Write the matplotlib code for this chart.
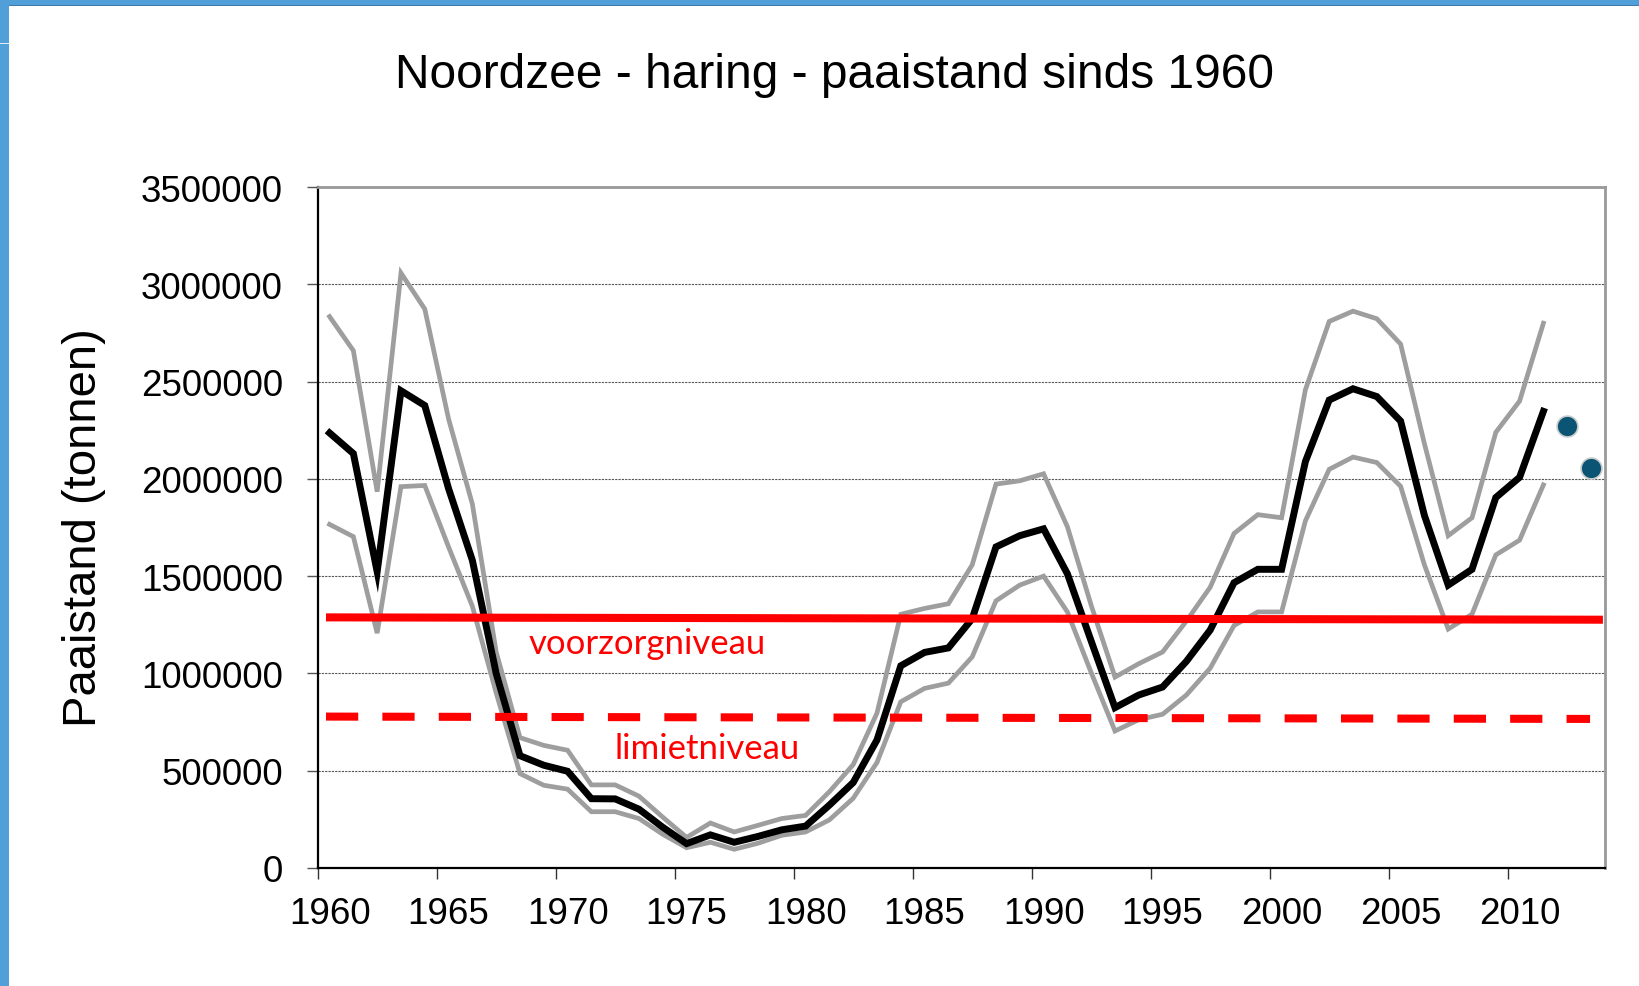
import matplotlib
matplotlib.use('Agg')
import matplotlib.pyplot as plt
from matplotlib.patches import Rectangle

# ---------------- data ----------------
years = list(range(1960, 2012))
ssb = [2236000, 2130000, 1523000, 2453000, 2377000, 1950000, 1581000, 1000000, 577000, 528000,
       497000, 356000, 355000, 302000, 209000, 125000, 170000, 132000, 162000, 196000,
       215000, 323000, 439000, 658000, 1039000, 1108000, 1131000, 1281000, 1650000, 1708000,
       1743000, 1512000, 1166000, 824000, 889000, 930000, 1062000, 1223000, 1466000, 1535000,
       1535000, 2089000, 2405000, 2463000, 2423000, 2297000, 1812000, 1454000, 1535000, 1904000,
       2008000, 2347000]
ssb_high = [2834000, 2659000, 1934000, 3058000, 2873000, 2308000, 1870000, 1110000, 670000, 630000,
            605000, 427000, 427000, 369000, 261000, 157000, 231000, 185000, 219000, 254000,
            270000, 392000, 531000, 796000, 1304000, 1334000, 1358000, 1558000, 1973000, 1990000,
            2026000, 1754000, 1350000, 981000, 1050000, 1110000, 1269000, 1443000, 1719000, 1816000,
            1800000, 2458000, 2809000, 2862000, 2823000, 2693000, 2181000, 1708000, 1800000, 2239000,
            2400000, 2800000]
ssb_low = [1766000, 1703000, 1207000, 1960000, 1966000, 1650000, 1345000, 900000, 485000, 425000,
           405000, 289000, 289000, 254000, 173000, 104000, 132000, 96000, 127000, 168000,
           185000, 247000, 358000, 542000, 854000, 923000, 950000, 1085000, 1373000, 1454000,
           1500000, 1316000, 1004000, 704000, 762000, 790000, 889000, 1027000, 1246000, 1316000,
           1316000, 1784000, 2049000, 2112000, 2084000, 1962000, 1558000, 1228000, 1304000, 1609000,
           1685000, 1969000]
forecast_years = [2012, 2013]
forecast_ssb = [2273000, 2054000]

bpa_x = [1960.35, 2014.0]
bpa_y = [1288000, 1276000]
blim_x = [1960.35, 2013.46]
blim_y = [778000, 766000]
bpa_label = 'voorzorgniveau'
blim_label = 'limietniveau'

y_ticks = [0, 500000, 1000000, 1500000, 2000000, 2500000, 3000000, 3500000]
x_tick_labels = ['1960', '1965', '1970', '1975', '1980', '1985', '1990', '1995', '2000', '2005', '2010']

title = 'Noordzee - haring - paaistand sinds 1960'
ylabel = 'Paaistand (tonnen)'

# ---------------- figure ----------------
plt.rcParams['font.family'] = ['Liberation Sans', 'DejaVu Sans']
fig = plt.figure(figsize=(16.4, 9.87), dpi=100)
fig.patch.set_facecolor('white')

# blue frame (slide border)
blue = '#509FD8'
fig.add_artist(Rectangle((0, 1 - 6 / 987), 1, 6 / 987, transform=fig.transFigure,
                         facecolor=blue, edgecolor='none', zorder=0))
fig.add_artist(Rectangle((0, 1 - 7 / 987), 1, 1 / 987, transform=fig.transFigure,
                         facecolor='#3F79A8', edgecolor='none', zorder=0))
fig.add_artist(Rectangle((0, 0), 9 / 1640, 1, transform=fig.transFigure,
                         facecolor=blue, edgecolor='none', zorder=0))
fig.add_artist(Rectangle((0, 1 - 45 / 987), 10 / 1640, 1.5 / 987, transform=fig.transFigure,
                         facecolor='#DDEBF6', edgecolor='none', zorder=1))

ax = fig.add_axes([0.1937, 0.1196, 0.7847, 0.6899])
off = 0.5
xs = [y + off for y in years]

ax.plot(xs, ssb_high, color='#9E9E9E', lw=3.4, solid_joinstyle='miter', zorder=3)
ax.plot(xs, ssb_low, color='#9E9E9E', lw=3.4, solid_joinstyle='miter', zorder=3)
ax.plot(xs, ssb, color='black', lw=5.0, solid_joinstyle='miter', zorder=4)
ax.plot([y + off for y in forecast_years], forecast_ssb, ls='none', marker='o', ms=15,
        mfc='#0B5474', mec='#C8CCCC', mew=1.2, zorder=5)

ax.plot(bpa_x, bpa_y, color='#FF0000', lw=5.8, solid_capstyle='butt', zorder=6)
ax.plot(blim_x, blim_y, color='#FF0000', lw=5.8, dashes=(4, 3), dash_capstyle='butt', zorder=6)
ax.text(1973.84, 1156000, bpa_label, color='#FF0000', fontsize=25, family=['Lato', 'DejaVu Sans'],
        ha='center', va='center', zorder=7)
ax.text(1976.36, 617000, blim_label, color='#FF0000', fontsize=25, family=['Lato', 'DejaVu Sans'],
        ha='center', va='center', zorder=7)

ax.set_xlim(1960, 2014.07)
ax.set_ylim(0, 3500000)

ax.set_yticks(y_ticks)
ax.set_yticklabels([str(v) for v in y_ticks], fontsize=26.5)
ax.grid(axis='y', color='#555555', lw=0.8, ls=(0, (2, 1)), zorder=1)

major = [int(t) for t in x_tick_labels]
ax.set_xticks(major)
ax.set_xticklabels([])
ax.set_xticks([m + off for m in major], minor=True)
ax.set_xticklabels(x_tick_labels, minor=True, fontsize=26.5)
ax.tick_params(axis='x', which='major', length=8, width=1.0, color='#333333', direction='out')
ax.tick_params(axis='x', which='minor', length=0, pad=20.5)
ax.tick_params(axis='y', length=8, width=1.0, color='#555555', direction='out', pad=17)

for s in ['left', 'bottom']:
    ax.spines[s].set_color('black')
    ax.spines[s].set_linewidth(1.6)
for s in ['top', 'right']:
    ax.spines[s].set_color('#999999')
    ax.spines[s].set_linewidth(2.0)
ax.set_axisbelow(True)

fig.text(835 / 1640, 1 - 76 / 987, title, fontsize=34.5, ha='center', va='center')
fig.text(84 / 1640, 1 - 528 / 987, ylabel, fontsize=34, rotation=90, ha='center', va='center')

fig.savefig('out.png', dpi=100, facecolor='white')
